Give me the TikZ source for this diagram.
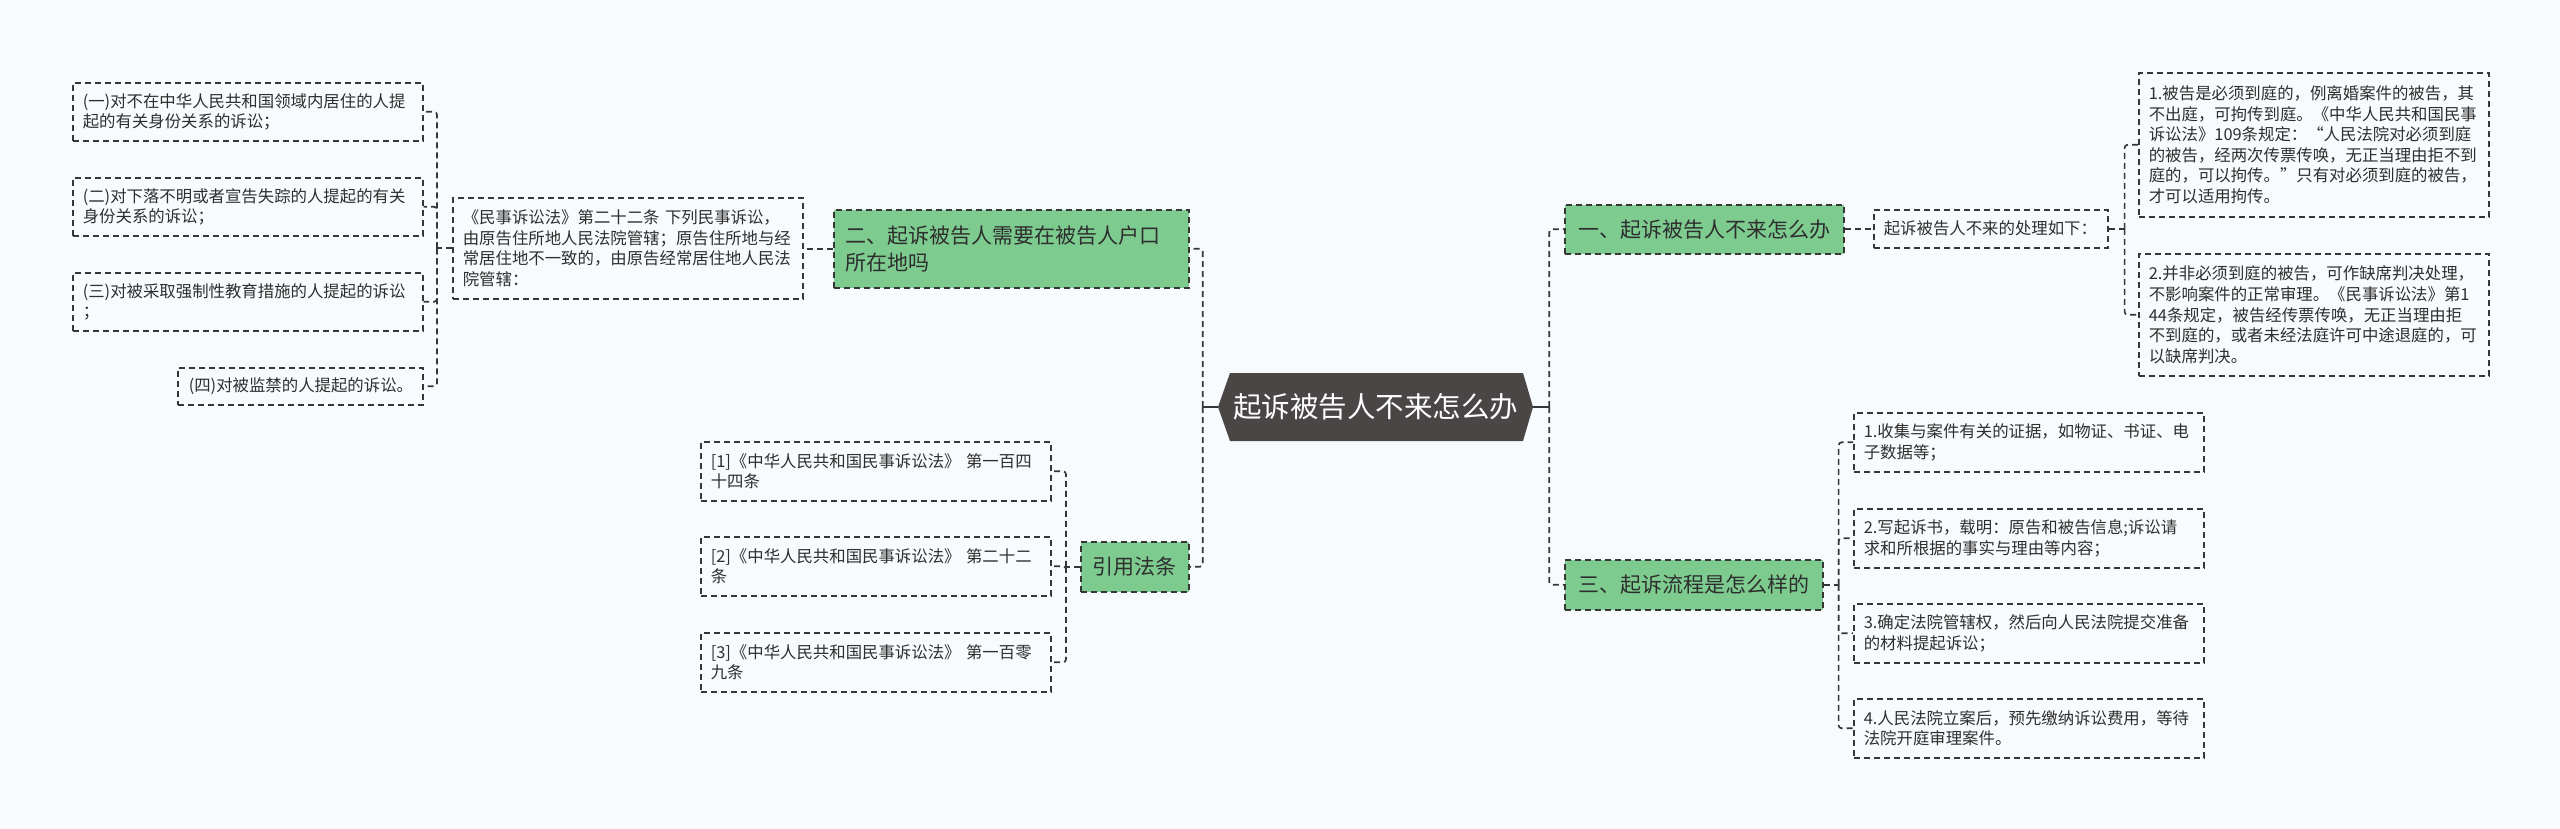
\documentclass[tikz,border=0pt]{standalone}
\usepackage{fontspec}
\setmainfont{Noto Sans CJK SC}
\definecolor{bg}{HTML}{F8FBFD}
\definecolor{gfill}{HTML}{7DCB8F}
\definecolor{hexc}{HTML}{4A4646}
\definecolor{txt}{HTML}{2E2E2E}
\definecolor{ln}{HTML}{363636}
\begin{document}
\begin{tikzpicture}[x=1pt,y=-1pt,
  leaf/.style={draw=ln, dash pattern=on 6pt off 4pt, line width=1.6pt, text=txt,
    font=\fontsize{16.4}{20.6}\selectfont, align=left, inner xsep=10pt, inner ysep=0pt,
    anchor=north west},
  gbox/.style={draw=ln, dash pattern=on 6pt off 4pt, line width=1.6pt, fill=gfill, text=txt,
    font=\fontsize{21}{27}\selectfont, inner xsep=12pt, inner ysep=0pt, anchor=north west},
  conn/.style={draw=ln, dash pattern=on 6pt off 4pt, line width=1.7pt, rounded corners=3pt},
  stub/.style={draw=ln, line width=1.8pt}]
\fill[bg] (0,0) rectangle (2560,829);
\useasboundingbox (0,0) rectangle (2560,829);

% centre
\fill[hexc] (1230,373) -- (1523,373) -- (1533,407) -- (1523,441) -- (1230,441) -- (1218,407) -- cycle;
\node[minimum width=315pt, minimum height=68pt, inner sep=0pt, text=white,
  font=\fontsize{28.5}{34}\selectfont] (C) at (1375.5,407) {起诉被告人不来怎么办};

% left side
\node[gbox, text width=331pt, align=left, minimum height=78pt] (G2) at (833,209)
  {二、起诉被告人需要在被告人户口\\所在地吗};
\node[gbox, minimum width=108pt, minimum height=50pt, align=center] (G4) at (1080,541) {引用法条};

\node[leaf, text width=330pt, minimum height=101pt] (M) at (452,197)
  {《民事诉讼法》第二十二条 下列民事诉讼，\\由原告住所地人民法院管辖；原告住所地与经\\常居住地不一致的，由原告经常居住地人民法\\院管辖：};

\node[leaf, text width=330pt, minimum height=58pt] (L1) at (72,82)
  {(一)对不在中华人民共和国领域内居住的人提\\起的有关身份关系的诉讼；};
\node[leaf, text width=330pt, minimum height=58pt] (L2) at (72,177)
  {(二)对下落不明或者宣告失踪的人提起的有关\\身份关系的诉讼；};
\node[leaf, text width=330pt, minimum height=58pt] (L3) at (72,272)
  {(三)对被采取强制性教育措施的人提起的诉讼\\；};
\node[leaf, inner xsep=11pt, text width=223pt, minimum height=37pt] (L4) at (177,367)
  {(四)对被监禁的人提起的诉讼。};

\node[leaf, text width=330pt, minimum height=59pt] (R1) at (700,441)
  {[1]《中华人民共和国民事诉讼法》 第一百四\\十四条};
\node[leaf, text width=330pt, minimum height=59pt] (R2) at (700,536)
  {[2]《中华人民共和国民事诉讼法》 第二十二\\条};
\node[leaf, text width=330pt, minimum height=59pt] (R3) at (700,632)
  {[3]《中华人民共和国民事诉讼法》 第一百零\\九条};

% right side
\node[gbox, minimum width=279pt, minimum height=49pt, align=center] (G1) at (1564,204) {一、起诉被告人不来怎么办};
\node[gbox, minimum width=258pt, minimum height=50pt, align=center] (G3) at (1564,559) {三、起诉流程是怎么样的};

\node[leaf, text width=214pt, minimum height=38pt] (P) at (1873,209) {起诉被告人不来的处理如下：};

\node[leaf, text width=330pt, minimum height=144pt] (A1) at (2138,72)
  {1.被告是必须到庭的，例离婚案件的被告，其\\不出庭，可拘传到庭。《中华人民共和国民事\\诉讼法》109条规定：“人民法院对必须到庭\\的被告，经两次传票传唤，无正当理由拒不到\\庭的，可以拘传。”只有对必须到庭的被告，\\才可以适用拘传。};
\node[leaf, text width=330pt, minimum height=122pt] (A2) at (2138,253)
  {2.并非必须到庭的被告，可作缺席判决处理，\\不影响案件的正常审理。《民事诉讼法》第1\\44条规定，被告经传票传唤，无正当理由拒\\不到庭的，或者未经法庭许可中途退庭的，可\\以缺席判决。};

\node[leaf, text width=330pt, minimum height=59pt] (S1) at (1853,412)
  {1.收集与案件有关的证据，如物证、书证、电\\子数据等；};
\node[leaf, text width=330pt, minimum height=59pt] (S2) at (1853,508)
  {2.写起诉书，载明：原告和被告信息;诉讼请\\求和所根据的事实与理由等内容；};
\node[leaf, text width=330pt, minimum height=59pt] (S3) at (1853,603)
  {3.确定法院管辖权，然后向人民法院提交准备\\的材料提起诉讼；};
\node[leaf, text width=330pt, minimum height=59pt] (S4) at (1853,698)
  {4.人民法院立案后，预先缴纳诉讼费用，等待\\法院开庭审理案件。};

% connectors
\draw[stub] (C.west) -- ++(-15,0) coordinate (cl);
\draw[conn] (cl) |- (G2.east);
\draw[conn] (cl) |- (G4.east);
\draw[stub] (C.east) -- ++(16,0) coordinate (cr);
\draw[conn] (cr) |- (G1.west);
\draw[conn] (cr) |- (G3.west);

\draw[conn] (G2.west) -- (G2.west -| M.east);
\draw[conn] (M.west) -- ++(-15,0) coordinate (ml);
\foreach \n in {L1,L2,L3,L4} \draw[conn] (ml) |- (\n.east);

\draw[conn] (G4.west) -- ++(-14,0) coordinate (rl);
\foreach \n in {R1,R2,R3} \draw[conn] (rl) |- (\n.east);

\draw[conn] (G1.east) -- (G1.east -| P.west);
\draw[conn] (P.east) -- ++(16,0) coordinate (pr);
\foreach \n in {A1,A2} \draw[conn] (pr) |- (\n.west);

\draw[conn] (G3.east) -- ++(15,0) coordinate (gr);
\foreach \n in {S1,S2,S3,S4} \draw[conn] (gr) |- (\n.west);
\end{tikzpicture}
\end{document}
